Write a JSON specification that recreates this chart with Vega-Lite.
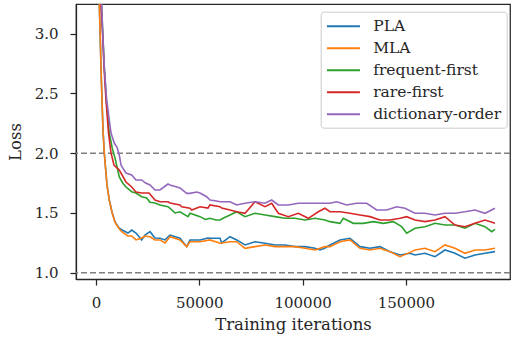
{
  "$schema": "https://vega.github.io/schema/vega-lite/v6.json",
  "width": 434,
  "height": 275,
  "autosize": {"type": "none"},
  "padding": {"left": 76, "top": 4, "right": 3, "bottom": 62},
  "background": "white",
  "config": {
    "view": {"stroke": "#262626", "strokeWidth": 1.25},
    "font": "DejaVu Serif",
    "axis": {
      "grid": false,
      "domainColor": "#262626",
      "domainWidth": 1.25,
      "tickColor": "#262626",
      "tickWidth": 1.25,
      "tickSize": 6,
      "labelFont": "DejaVu Serif",
      "labelFontSize": 15,
      "labelColor": "#262626",
      "titleFont": "DejaVu Serif",
      "titleFontSize": 16.5,
      "titleFontWeight": "normal",
      "titleColor": "#262626"
    },
    "legend": {
      "labelFont": "DejaVu Serif",
      "labelFontSize": 15.5,
      "labelColor": "#262626"
    }
  },
  "layer": [
    {
      "data": {"values": [{"ref": 1.0}, {"ref": 2.0}]},
      "mark": {"type": "rule", "color": "#808080", "strokeWidth": 1.5, "strokeDash": [6, 3]},
      "encoding": {
        "y": {"field": "ref", "type": "quantitative", "scale": {"domain": [0.947, 3.249], "nice": false, "zero": false}}
      }
    },
    {
      "data": {"values": [
        {"s":"PLA","x":484,"y":4.6},{"s":"PLA","x":1597,"y":3.249},{"s":"PLA","x":2081,"y":2.947},{"s":"PLA","x":2420,"y":2.721},{"s":"PLA","x":2904,"y":2.445},{"s":"PLA","x":3388,"y":2.194},{"s":"PLA","x":4017,"y":2.002},{"s":"PLA","x":5324,"y":1.734},{"s":"PLA","x":6437,"y":1.608},{"s":"PLA","x":7744,"y":1.508},{"s":"PLA","x":9196,"y":1.424},{"s":"PLA","x":11132,"y":1.374},{"s":"PLA","x":12584,"y":1.357},{"s":"PLA","x":15488,"y":1.332},{"s":"PLA","x":17279,"y":1.357},{"s":"PLA","x":19360,"y":1.332},{"s":"PLA","x":22119,"y":1.274},{"s":"PLA","x":23716,"y":1.315},{"s":"PLA","x":26136,"y":1.343},{"s":"PLA","x":28556,"y":1.29},{"s":"PLA","x":30976,"y":1.288},{"s":"PLA","x":33396,"y":1.274},{"s":"PLA","x":35816,"y":1.315},{"s":"PLA","x":40656,"y":1.288},{"s":"PLA","x":43899,"y":1.218},{"s":"PLA","x":45496,"y":1.274},{"s":"PLA","x":50336,"y":1.274},{"s":"PLA","x":54208,"y":1.29},{"s":"PLA","x":55176,"y":1.288},{"s":"PLA","x":60016,"y":1.288},{"s":"PLA","x":60839,"y":1.249},{"s":"PLA","x":64856,"y":1.301},{"s":"PLA","x":68099,"y":1.274},{"s":"PLA","x":72116,"y":1.232},{"s":"PLA","x":76956,"y":1.259},{"s":"PLA","x":81796,"y":1.246},{"s":"PLA","x":86636,"y":1.232},{"s":"PLA","x":91476,"y":1.232},{"s":"PLA","x":96316,"y":1.218},{"s":"PLA","x":101156,"y":1.218},{"s":"PLA","x":105996,"y":1.204},{"s":"PLA","x":108416,"y":1.19},{"s":"PLA","x":110836,"y":1.207},{"s":"PLA","x":113256,"y":1.232},{"s":"PLA","x":118096,"y":1.274},{"s":"PLA","x":122936,"y":1.288},{"s":"PLA","x":127776,"y":1.218},{"s":"PLA","x":132616,"y":1.204},{"s":"PLA","x":137456,"y":1.218},{"s":"PLA","x":142296,"y":1.176},{"s":"PLA","x":147136,"y":1.148},{"s":"PLA","x":151976,"y":1.162},{"s":"PLA","x":154396,"y":1.148},{"s":"PLA","x":159236,"y":1.162},{"s":"PLA","x":164076,"y":1.134},{"s":"PLA","x":168916,"y":1.19},{"s":"PLA","x":173756,"y":1.162},{"s":"PLA","x":178596,"y":1.121},{"s":"PLA","x":183436,"y":1.148},{"s":"PLA","x":188276,"y":1.162},{"s":"PLA","x":193116,"y":1.176},

        {"s":"MLA","x":484,"y":4.6},{"s":"MLA","x":1597,"y":3.249},{"s":"MLA","x":2081,"y":2.95},{"s":"MLA","x":2420,"y":2.72},{"s":"MLA","x":2904,"y":2.44},{"s":"MLA","x":3388,"y":2.19},{"s":"MLA","x":4017,"y":2.0},{"s":"MLA","x":5324,"y":1.73},{"s":"MLA","x":6437,"y":1.605},{"s":"MLA","x":7744,"y":1.505},{"s":"MLA","x":9196,"y":1.42},{"s":"MLA","x":11132,"y":1.37},{"s":"MLA","x":12584,"y":1.341},{"s":"MLA","x":15488,"y":1.307},{"s":"MLA","x":17279,"y":1.307},{"s":"MLA","x":19360,"y":1.274},{"s":"MLA","x":22119,"y":1.29},{"s":"MLA","x":23716,"y":1.307},{"s":"MLA","x":26136,"y":1.301},{"s":"MLA","x":28556,"y":1.274},{"s":"MLA","x":30976,"y":1.274},{"s":"MLA","x":33396,"y":1.249},{"s":"MLA","x":35816,"y":1.301},{"s":"MLA","x":40656,"y":1.274},{"s":"MLA","x":43899,"y":1.218},{"s":"MLA","x":45496,"y":1.259},{"s":"MLA","x":50336,"y":1.259},{"s":"MLA","x":55176,"y":1.274},{"s":"MLA","x":60016,"y":1.246},{"s":"MLA","x":64856,"y":1.259},{"s":"MLA","x":68099,"y":1.259},{"s":"MLA","x":72116,"y":1.204},{"s":"MLA","x":76956,"y":1.218},{"s":"MLA","x":81796,"y":1.232},{"s":"MLA","x":86636,"y":1.218},{"s":"MLA","x":91476,"y":1.218},{"s":"MLA","x":96316,"y":1.218},{"s":"MLA","x":101156,"y":1.204},{"s":"MLA","x":105996,"y":1.19},{"s":"MLA","x":110836,"y":1.218},{"s":"MLA","x":113256,"y":1.218},{"s":"MLA","x":118096,"y":1.259},{"s":"MLA","x":122936,"y":1.274},{"s":"MLA","x":127776,"y":1.204},{"s":"MLA","x":132616,"y":1.19},{"s":"MLA","x":137456,"y":1.204},{"s":"MLA","x":142296,"y":1.176},{"s":"MLA","x":147136,"y":1.134},{"s":"MLA","x":151976,"y":1.17},{"s":"MLA","x":154396,"y":1.19},{"s":"MLA","x":159236,"y":1.204},{"s":"MLA","x":164076,"y":1.176},{"s":"MLA","x":168916,"y":1.232},{"s":"MLA","x":173756,"y":1.204},{"s":"MLA","x":178596,"y":1.162},{"s":"MLA","x":183436,"y":1.19},{"s":"MLA","x":188276,"y":1.19},{"s":"MLA","x":193116,"y":1.204},

        {"s":"frequent-first","x":1300,"y":4.6},{"s":"frequent-first","x":2590,"y":3.249},{"s":"frequent-first","x":3300,"y":3.006},{"s":"frequent-first","x":4000,"y":2.721},{"s":"frequent-first","x":5000,"y":2.445},{"s":"frequent-first","x":6400,"y":2.169},{"s":"frequent-first","x":7900,"y":2.04},{"s":"frequent-first","x":9341,"y":1.95},{"s":"frequent-first","x":11277,"y":1.801},{"s":"frequent-first","x":12900,"y":1.751},{"s":"frequent-first","x":14520,"y":1.717},{"s":"frequent-first","x":17279,"y":1.678},{"s":"frequent-first","x":19360,"y":1.667},{"s":"frequent-first","x":22119,"y":1.636},{"s":"frequent-first","x":24500,"y":1.625},{"s":"frequent-first","x":26136,"y":1.59},{"s":"frequent-first","x":28556,"y":1.583},{"s":"frequent-first","x":30976,"y":1.567},{"s":"frequent-first","x":34848,"y":1.552},{"s":"frequent-first","x":35816,"y":1.539},{"s":"frequent-first","x":38236,"y":1.5},{"s":"frequent-first","x":40656,"y":1.51},{"s":"frequent-first","x":44528,"y":1.469},{"s":"frequent-first","x":45496,"y":1.497},{"s":"frequent-first","x":50336,"y":1.469},{"s":"frequent-first","x":53000,"y":1.445},{"s":"frequent-first","x":55176,"y":1.455},{"s":"frequent-first","x":58000,"y":1.441},{"s":"frequent-first","x":60016,"y":1.441},{"s":"frequent-first","x":62000,"y":1.46},{"s":"frequent-first","x":64856,"y":1.483},{"s":"frequent-first","x":68099,"y":1.51},{"s":"frequent-first","x":72116,"y":1.469},{"s":"frequent-first","x":76956,"y":1.497},{"s":"frequent-first","x":81796,"y":1.483},{"s":"frequent-first","x":86636,"y":1.469},{"s":"frequent-first","x":91476,"y":1.455},{"s":"frequent-first","x":96316,"y":1.455},{"s":"frequent-first","x":101156,"y":1.441},{"s":"frequent-first","x":105996,"y":1.455},{"s":"frequent-first","x":110836,"y":1.441},{"s":"frequent-first","x":113256,"y":1.427},{"s":"frequent-first","x":118096,"y":1.413},{"s":"frequent-first","x":119693,"y":1.455},{"s":"frequent-first","x":124537,"y":1.413},{"s":"frequent-first","x":129377,"y":1.413},{"s":"frequent-first","x":134217,"y":1.427},{"s":"frequent-first","x":139057,"y":1.413},{"s":"frequent-first","x":143897,"y":1.427},{"s":"frequent-first","x":147959,"y":1.385},{"s":"frequent-first","x":150379,"y":1.33},{"s":"frequent-first","x":154396,"y":1.372},{"s":"frequent-first","x":159236,"y":1.385},{"s":"frequent-first","x":164076,"y":1.413},{"s":"frequent-first","x":168916,"y":1.399},{"s":"frequent-first","x":173756,"y":1.399},{"s":"frequent-first","x":178596,"y":1.372},{"s":"frequent-first","x":183436,"y":1.413},{"s":"frequent-first","x":188276,"y":1.385},{"s":"frequent-first","x":191519,"y":1.343},{"s":"frequent-first","x":193116,"y":1.363},

        {"s":"rare-first","x":1100,"y":4.6},{"s":"rare-first","x":2420,"y":3.249},{"s":"rare-first","x":3146,"y":3.006},{"s":"rare-first","x":3872,"y":2.721},{"s":"rare-first","x":4840,"y":2.445},{"s":"rare-first","x":6050,"y":2.169},{"s":"rare-first","x":7260,"y":2.002},{"s":"rare-first","x":8712,"y":1.901},{"s":"rare-first","x":11277,"y":1.859},{"s":"rare-first","x":14520,"y":1.759},{"s":"rare-first","x":17279,"y":1.717},{"s":"rare-first","x":19360,"y":1.675},{"s":"rare-first","x":22119,"y":1.667},{"s":"rare-first","x":25652,"y":1.667},{"s":"rare-first","x":28556,"y":1.608},{"s":"rare-first","x":30976,"y":1.594},{"s":"rare-first","x":34848,"y":1.594},{"s":"rare-first","x":35816,"y":1.583},{"s":"rare-first","x":40656,"y":1.567},{"s":"rare-first","x":41479,"y":1.552},{"s":"rare-first","x":45496,"y":1.539},{"s":"rare-first","x":46319,"y":1.525},{"s":"rare-first","x":50336,"y":1.552},{"s":"rare-first","x":54208,"y":1.541},{"s":"rare-first","x":55176,"y":1.567},{"s":"rare-first","x":60016,"y":1.552},{"s":"rare-first","x":60839,"y":1.541},{"s":"rare-first","x":64856,"y":1.525},{"s":"rare-first","x":68099,"y":1.51},{"s":"rare-first","x":72116,"y":1.497},{"s":"rare-first","x":76956,"y":1.594},{"s":"rare-first","x":81796,"y":1.552},{"s":"rare-first","x":85039,"y":1.581},{"s":"rare-first","x":88233,"y":1.497},{"s":"rare-first","x":93073,"y":1.469},{"s":"rare-first","x":97913,"y":1.497},{"s":"rare-first","x":102753,"y":1.455},{"s":"rare-first","x":107593,"y":1.51},{"s":"rare-first","x":110836,"y":1.539},{"s":"rare-first","x":113256,"y":1.51},{"s":"rare-first","x":118096,"y":1.51},{"s":"rare-first","x":122936,"y":1.497},{"s":"rare-first","x":127776,"y":1.483},{"s":"rare-first","x":132616,"y":1.469},{"s":"rare-first","x":137456,"y":1.441},{"s":"rare-first","x":142296,"y":1.441},{"s":"rare-first","x":147136,"y":1.455},{"s":"rare-first","x":150379,"y":1.469},{"s":"rare-first","x":154396,"y":1.441},{"s":"rare-first","x":159236,"y":1.427},{"s":"rare-first","x":164076,"y":1.441},{"s":"rare-first","x":168916,"y":1.469},{"s":"rare-first","x":173756,"y":1.399},{"s":"rare-first","x":178596,"y":1.385},{"s":"rare-first","x":183436,"y":1.413},{"s":"rare-first","x":188276,"y":1.441},{"s":"rare-first","x":193116,"y":1.413},

        {"s":"dictionary-order","x":1500,"y":4.6},{"s":"dictionary-order","x":2759,"y":3.249},{"s":"dictionary-order","x":3243,"y":3.006},{"s":"dictionary-order","x":4017,"y":2.721},{"s":"dictionary-order","x":5179,"y":2.445},{"s":"dictionary-order","x":7260,"y":2.169},{"s":"dictionary-order","x":8857,"y":2.085},{"s":"dictionary-order","x":10164,"y":2.05},{"s":"dictionary-order","x":11277,"y":1.985},{"s":"dictionary-order","x":12100,"y":1.901},{"s":"dictionary-order","x":13552,"y":1.859},{"s":"dictionary-order","x":14520,"y":1.834},{"s":"dictionary-order","x":17279,"y":1.818},{"s":"dictionary-order","x":19360,"y":1.776},{"s":"dictionary-order","x":22119,"y":1.776},{"s":"dictionary-order","x":24000,"y":1.75},{"s":"dictionary-order","x":26136,"y":1.734},{"s":"dictionary-order","x":28556,"y":1.692},{"s":"dictionary-order","x":30976,"y":1.692},{"s":"dictionary-order","x":34848,"y":1.742},{"s":"dictionary-order","x":35816,"y":1.734},{"s":"dictionary-order","x":40656,"y":1.709},{"s":"dictionary-order","x":43899,"y":1.664},{"s":"dictionary-order","x":45496,"y":1.664},{"s":"dictionary-order","x":48739,"y":1.675},{"s":"dictionary-order","x":50336,"y":1.667},{"s":"dictionary-order","x":53579,"y":1.636},{"s":"dictionary-order","x":55176,"y":1.608},{"s":"dictionary-order","x":58419,"y":1.6},{"s":"dictionary-order","x":60016,"y":1.594},{"s":"dictionary-order","x":64856,"y":1.594},{"s":"dictionary-order","x":68099,"y":1.567},{"s":"dictionary-order","x":72116,"y":1.581},{"s":"dictionary-order","x":76956,"y":1.594},{"s":"dictionary-order","x":81796,"y":1.581},{"s":"dictionary-order","x":85039,"y":1.608},{"s":"dictionary-order","x":88233,"y":1.567},{"s":"dictionary-order","x":93073,"y":1.567},{"s":"dictionary-order","x":97913,"y":1.581},{"s":"dictionary-order","x":102753,"y":1.581},{"s":"dictionary-order","x":108416,"y":1.581},{"s":"dictionary-order","x":113256,"y":1.581},{"s":"dictionary-order","x":116499,"y":1.594},{"s":"dictionary-order","x":121339,"y":1.567},{"s":"dictionary-order","x":126179,"y":1.581},{"s":"dictionary-order","x":131019,"y":1.581},{"s":"dictionary-order","x":135859,"y":1.525},{"s":"dictionary-order","x":140699,"y":1.525},{"s":"dictionary-order","x":145539,"y":1.552},{"s":"dictionary-order","x":149556,"y":1.539},{"s":"dictionary-order","x":154396,"y":1.497},{"s":"dictionary-order","x":159236,"y":1.497},{"s":"dictionary-order","x":164076,"y":1.483},{"s":"dictionary-order","x":168916,"y":1.497},{"s":"dictionary-order","x":173756,"y":1.497},{"s":"dictionary-order","x":178596,"y":1.51},{"s":"dictionary-order","x":183436,"y":1.525},{"s":"dictionary-order","x":188276,"y":1.497},{"s":"dictionary-order","x":193116,"y":1.539}
      ]},
      "mark": {"type": "line", "strokeWidth": 1.6, "clip": true},
      "encoding": {
        "x": {
          "field": "x", "type": "quantitative",
          "scale": {"domain": [-9680, 200380], "nice": false, "zero": false},
          "axis": {"values": [0, 50000, 100000, 150000], "format": "d", "title": "Training iterations", "labelPadding": 10, "titlePadding": 6}
        },
        "y": {
          "field": "y", "type": "quantitative",
          "scale": {"domain": [0.947, 3.249], "nice": false, "zero": false},
          "axis": {"values": [1.0, 1.5, 2.0, 2.5, 3.0], "format": ".1f", "title": "Loss", "labelPadding": 12, "titlePadding": 11}
        },
        "color": {
          "field": "s", "type": "nominal",
          "scale": {
            "domain": ["PLA", "MLA", "frequent-first", "rare-first", "dictionary-order"],
            "range": ["#1f77b4", "#ff7f0e", "#2ca02c", "#d62728", "#9467bd"]
          },
          "legend": {
            "title": null,
            "orient": "none",
            "legendX": 244.7,
            "legendY": 7.7,
            "symbolType": "M-1,0L3,0",
            "symbolSize": 272,
            "symbolStrokeWidth": 2,
            "labelOffset": 28.5,
            "rowPadding": 4,
            "padding": 5,
            "fillColor": "rgba(255,255,255,0.8)",
            "strokeColor": "#cccccc",
            "cornerRadius": 3
          }
        }
      }
    }
  ]
}
